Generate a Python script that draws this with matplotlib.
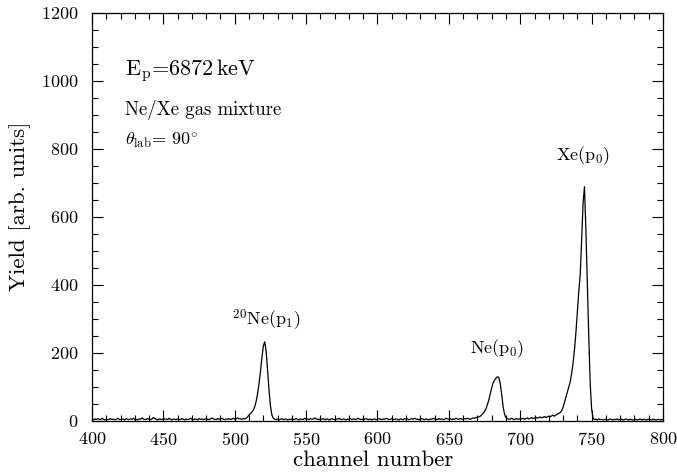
import numpy as np
import matplotlib
matplotlib.use('Agg')
import matplotlib.pyplot as plt

# canales del espectro (400 .. 800)
channels = np.arange(400, 801)

# cuentas por canal (20 canales por fila)
counts = [
	5, 3, 6, 4, 7, 5, 4, 8, 5, 3, 6, 4, 5, 7, 4, 6, 3, 5, 8, 5,
	4, 6, 5, 3, 7, 5, 4, 6, 5, 8, 4, 5, 3, 6, 5, 9, 6, 4, 5, 7,
	5, 4, 6, 10, 7, 5, 3, 6, 5, 4, 7, 5, 6, 4, 8, 5, 3, 6, 5, 4,
	6, 5, 4, 7, 5, 3, 6, 4, 5, 8, 5, 4, 6, 5, 3, 7, 5, 6, 4, 5,
	7, 5, 4, 6, 9, 6, 5, 4, 7, 5, 6, 8, 5, 4, 6, 5, 7, 4, 6, 8,
	5, 6, 9, 7, 6, 5, 7, 6, 8, 12, 18, 22, 26, 32, 42, 58, 80, 110, 145, 185,
	220, 233, 205, 150, 92, 45, 18, 8, 5, 4, 6, 3, 5, 7, 4, 5, 6, 3, 5, 4,
	6, 4, 5, 7, 5, 3, 6, 5, 4, 8, 5, 6, 4, 7, 5, 6, 9, 6, 5, 4,
	6, 5, 7, 4, 5, 6, 3, 5, 7, 5, 4, 6, 5, 8, 5, 4, 6, 5, 3, 6,
	5, 7, 4, 6, 5, 4, 8, 6, 5, 4, 6, 5, 7, 5, 4, 6, 3, 5, 6, 4,
	5, 7, 5, 4, 6, 5, 8, 6, 4, 5, 7, 5, 4, 6, 5, 3, 6, 5, 4, 7,
	5, 6, 4, 5, 7, 5, 8, 6, 5, 4, 6, 7, 5, 4, 6, 5, 3, 6, 5, 7,
	6, 5, 4, 7, 5, 6, 4, 5, 8, 6, 5, 7, 4, 6, 5, 8, 6, 5, 7, 6,
	5, 7, 6, 8, 6, 5, 7, 9, 8, 10, 11, 12, 14, 18, 22, 28, 36, 48, 62, 80,
	98, 112, 120, 126, 130, 128, 110, 78, 42, 20, 10, 7, 5, 6, 8, 5, 4, 7, 6, 5,
	7, 6, 8, 5, 7, 9, 6, 8, 10, 7, 9, 11, 8, 10, 12, 9, 11, 13, 10, 12,
	14, 12, 15, 17, 14, 18, 20, 22, 25, 30, 40, 55, 70, 85, 100, 115, 140, 170, 210, 260,
	320, 380, 430, 530, 640, 689, 560, 405, 250, 112, 35, 8, 4, 5, 3, 6, 4, 5, 3, 4,
	5, 3, 4, 6, 4, 3, 5, 4, 6, 3, 4, 5, 3, 4, 6, 4, 3, 5, 4, 3,
	4, 5, 3, 4, 6, 3, 4, 5, 3, 4, 5, 4, 3, 5, 4, 3, 4, 5, 3, 4,
	4,
]

# etiquetas de los picos: (texto, canal, altura)
peakLabels = [r'$^{20}$Ne(p$_1$)', r'Ne(p$_0$)', r'Xe(p$_0$)']
peakChannels = [522, 684, 744]
peakHeights = [282, 200, 768]


def main():
	plt.rcParams['font.family'] = 'cmr10'
	plt.rcParams['mathtext.fontset'] = 'cm'
	plt.rcParams['axes.unicode_minus'] = False
	plt.rcParams['axes.formatter.use_mathtext'] = True

	fig = plt.figure(figsize=(6.77, 4.72), dpi=100)
	ax = fig.add_axes([0.1359, 0.1081, 0.8434, 0.8644])

	ax.plot(channels, counts, color='black', linewidth=0.9)

	ax.set_xlim(400, 800)
	ax.set_ylim(0, 1200)
	ax.set_xticks(np.arange(400, 801, 50))
	ax.set_xticks(np.arange(400, 801, 10), minor=True)
	ax.set_yticks(np.arange(0, 1201, 200))
	ax.set_yticks(np.arange(0, 1201, 50), minor=True)
	ax.tick_params(which='both', direction='in', top=True, right=True, width=0.8, labelsize=13)
	ax.tick_params(which='major', length=8)
	ax.tick_params(which='minor', length=4)
	ax.tick_params(axis='y', pad=10)
	ax.tick_params(axis='x', pad=7)
	for s in ax.spines.values():
		s.set_linewidth(0.9)

	ax.set_xlabel('channel number', fontsize=16.5)
	ax.set_ylabel('Yield [arb. units]', fontsize=16.5)
	ax.xaxis.set_label_coords(0.492, -0.072)
	ax.yaxis.set_label_coords(-0.107, 0.527)

	# textos dentro del grafico
	ax.text(423, 1018, r'E$_{\rm p}$=6872$\,$keV', fontsize=16, va='baseline')
	ax.text(423, 900, 'Ne/Xe gas mixture', fontsize=13.5, va='baseline')
	ax.text(423, 812, r'$\theta_{\rm lab}$= $90^{\circ}$', fontsize=13, va='baseline')

	for txt, ch, h in zip(peakLabels, peakChannels, peakHeights):
		ax.text(ch, h, txt, fontsize=13, ha='center', va='baseline')

	fig.savefig('out.png', dpi=100)


if __name__ == '__main__':
	main()
